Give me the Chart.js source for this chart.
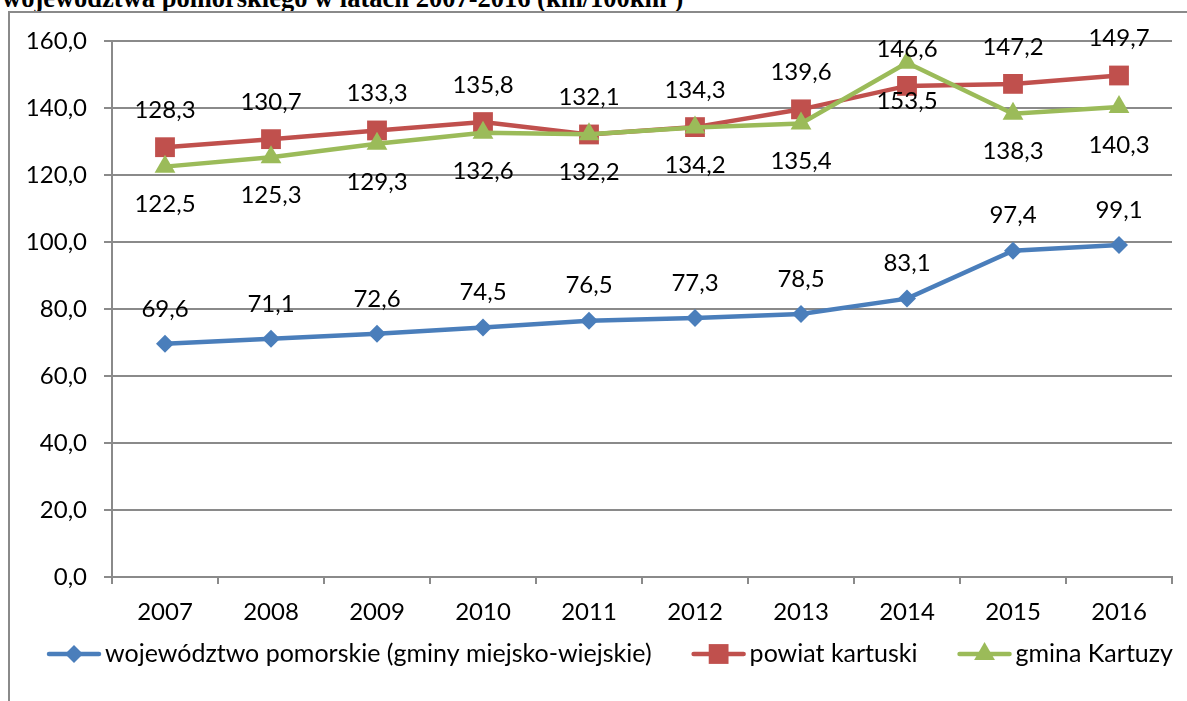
<!DOCTYPE html>
<html>
<head>
<meta charset="utf-8">
<script src="https://cdn.jsdelivr.net/npm/chart.js@4/dist/chart.umd.min.js"></script>
<style>
  html, body { margin: 0; padding: 0; background: #fff; width: 1187px; height: 701px; overflow: hidden; }
  #title { position: absolute; left: 2px; top: -15px; font: bold 26.5px "Liberation Serif", "Times New Roman", serif; line-height: 1; white-space: nowrap; color: #000; }
  #frame { position: absolute; left: 8px; top: 11px; width: 1220px; height: 720px; border-left: 2px solid #8a8a8a; border-top: 2px solid #8a8a8a; }
  #c { position: absolute; left: 0; top: 0; }
</style>
</head>
<body>
<div id="title">województwa pomorskiego w latach 2007-2016 (km/100km²)</div>
<div id="frame"></div>
<canvas id="c" width="1187" height="701"></canvas>
<script>
// Density of the road network, 2007-2016
const years = ['2007', '2008', '2009', '2010', '2011', '2012', '2013', '2014', '2015', '2016'];
const wojewodztwo = [69.6, 71.1, 72.6, 74.5, 76.5, 77.3, 78.5, 83.1, 97.4, 99.1];
const powiat = [128.3, 130.7, 133.3, 135.8, 132.1, 134.3, 139.6, 146.6, 147.2, 149.7];
const gmina = [122.5, 125.3, 129.3, 132.6, 132.2, 134.2, 135.4, 153.5, 138.3, 140.3];
const seriesNames = ['województwo pomorskie (gminy miejsko-wiejskie)', 'powiat kartuski', 'gmina Kartuzy'];
const yMin = 0, yMax = 160, yStep = 20;

const FONT = 'Lato, "Open Sans", sans-serif';
const FONT_SIZE = 24;
const LEGEND_FONT_SIZE = 25;
const GRID = '#8a8a8a';

const fmt = v => v.toFixed(1).replace('.', ',');

function drawMarker(ctx, style, r, x, y, color) {
  ctx.save();
  ctx.fillStyle = color;
  ctx.beginPath();
  if (style === 'rect') {
    const s = Math.SQRT1_2 * r;
    ctx.rect(x - s, y - s, 2 * s, 2 * s);
  } else if (style === 'rectRot') {
    ctx.moveTo(x - r, y); ctx.lineTo(x, y - r); ctx.lineTo(x + r, y); ctx.lineTo(x, y + r);
    ctx.closePath();
  } else {
    const h = r * Math.sqrt(3) / 2;
    ctx.moveTo(x, y - r); ctx.lineTo(x + h, y + r / 2); ctx.lineTo(x - h, y + r / 2);
    ctx.closePath();
  }
  ctx.fill();
  ctx.restore();
}

// value labels above / below each point
const valueLabels = {
  id: 'valueLabels',
  afterDatasetsDraw(chart) {
    const ctx = chart.ctx;
    ctx.save();
    ctx.font = FONT_SIZE + 'px ' + FONT;
    ctx.fillStyle = '#000';
    ctx.textAlign = 'center';
    ctx.textBaseline = 'middle';
    chart.data.datasets.forEach((ds, i) => {
      chart.getDatasetMeta(i).data.forEach((pt, j) => {
        ctx.fillText(fmt(ds.data[j]), pt.x, pt.y + ds.labelOffset);
      });
    });
    ctx.restore();
  }
};

// legend: line with marker, then the series name
const lineLegend = {
  id: 'lineLegend',
  afterDraw(chart, args, opts) {
    const ctx = chart.ctx;
    ctx.save();
    ctx.font = LEGEND_FONT_SIZE + 'px ' + FONT;
    const lineLen = 54, textGap = 4, itemGap = 40;
    const items = chart.data.datasets.map(ds => ({ ds, w: lineLen + textGap + ctx.measureText(ds.label).width }));
    const total = items.reduce((s, it) => s + it.w, 0) + itemGap * (items.length - 1);
    let x = opts.centerX - total / 2;
    const y = opts.y;
    items.forEach(({ ds, w }) => {
      ctx.strokeStyle = ds.borderColor;
      ctx.lineWidth = ds.borderWidth;
      ctx.lineCap = 'round';
      ctx.beginPath();
      ctx.moveTo(x + 2, y); ctx.lineTo(x + lineLen - 2, y);
      ctx.stroke();
      drawMarker(ctx, ds.pointStyle, ds.pointRadius, x + lineLen / 2, y, ds.borderColor);
      ctx.fillStyle = '#000';
      ctx.textAlign = 'left';
      ctx.textBaseline = 'middle';
      ctx.fillText(ds.label, x + lineLen + textGap, y);
      x += w + itemGap;
    });
    ctx.restore();
  }
};

function series(label, data, color, style, radius, labelOffset, order) {
  return {
    label, data, order, labelOffset,
    borderColor: color, backgroundColor: color,
    borderWidth: 4.5,
    pointStyle: style, pointRadius: radius, pointHoverRadius: radius,
    pointBackgroundColor: color, pointBorderColor: color, pointBorderWidth: 0,
    tension: 0, clip: false
  };
}

new Chart(document.getElementById('c'), {
  type: 'line',
  data: {
    labels: years,
    datasets: [
      series(seriesNames[0], wojewodztwo, '#4a7ebb', 'rectRot', 9, -35, 2),
      series(seriesNames[1], powiat, '#c0504d', 'rect', 14, -37, 1),
      series(seriesNames[2], gmina, '#9bbb59', 'triangle', 12, 38, 0)
    ]
  },
  options: {
    responsive: false,
    animation: false,
    events: [],
    layout: { padding: { left: 0, top: 41, right: 15, bottom: 0 } },
    plugins: {
      legend: { display: false },
      tooltip: { enabled: false },
      lineLegend: { centerX: 610, y: 654 }
    },
    scales: {
      x: {
        offset: true,
        grid: { offset: true, drawOnChartArea: false, color: GRID, lineWidth: 2, tickLength: 7 },
        border: { color: GRID, width: 2 },
        ticks: { color: '#000', font: { family: FONT, size: FONT_SIZE }, padding: 14, maxRotation: 0 },
        afterFit(scale) { scale.height = 124; }
      },
      y: {
        min: yMin, max: yMax,
        grid: { color: GRID, lineWidth: 2, tickLength: 8 },
        border: { color: GRID, width: 2 },
        ticks: { stepSize: yStep, color: '#000', font: { family: FONT, size: FONT_SIZE }, padding: 17, callback: v => fmt(v) },
        afterFit(scale) { scale.width = 112; }
      }
    }
  },
  plugins: [valueLabels, lineLegend]
});
</script>
</body>
</html>
